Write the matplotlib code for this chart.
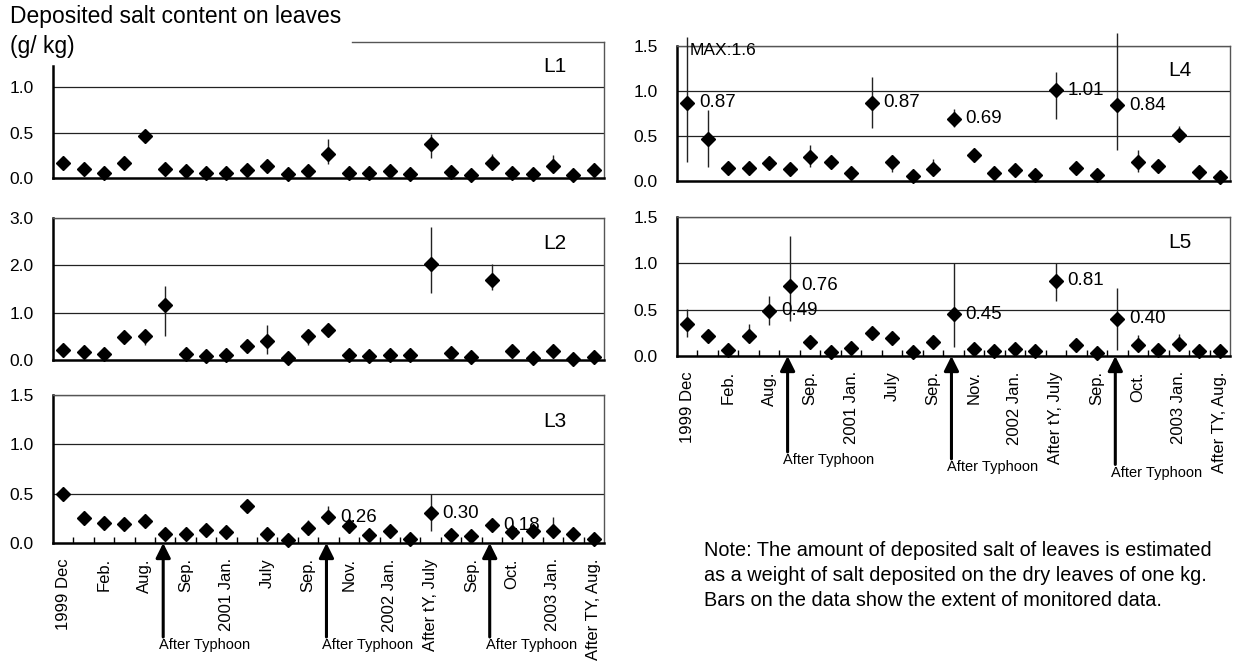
import numpy as np
import matplotlib
matplotlib.use('Agg')
import matplotlib.pyplot as plt

plt.rcParams['font.family'] = ['Liberation Sans', 'DejaVu Sans']

nan = np.nan

# category labels (every other category is labelled)
tick_labels = ['1999 Dec', 'Feb.', 'Aug.', 'Sep.', '2001 Jan.', 'July', 'Sep.',
               'Nov.', '2002 Jan.', 'After tY, July', 'Sep.', 'Oct.', '2003 Jan.',
               'After TY, Aug.']
n_cat = 27

# deposited salt (g/kg) per site
L1 = [0.17, 0.10, 0.06, 0.16, 0.46, 0.10, 0.08, 0.05, 0.06, 0.09, 0.13, 0.04, 0.08, 0.26,
      0.05, 0.06, 0.08, 0.04, 0.37, 0.07, 0.03, 0.16, 0.06, 0.04, 0.13, 0.03, 0.09]
L2 = [0.21, 0.16, 0.13, 0.49, 0.51, 1.16, 0.13, 0.09, 0.11, 0.30, 0.40, 0.04, 0.51, 0.63,
      0.11, 0.09, 0.11, 0.11, 2.02, 0.14, 0.07, 1.70, 0.20, 0.04, 0.18, 0.02, 0.06]
L3 = [0.50, 0.25, 0.20, 0.19, 0.22, 0.09, 0.09, 0.13, 0.11, 0.38, 0.09, 0.03, 0.15, 0.26,
      0.17, 0.08, 0.12, 0.04, 0.30, 0.08, 0.07, 0.18, 0.11, 0.12, 0.12, 0.09, 0.04]
L4 = [0.87, 0.47, 0.14, 0.14, 0.20, 0.13, 0.27, 0.21, 0.09, 0.87, 0.21, 0.06, 0.13, 0.69,
      0.29, 0.09, 0.12, 0.07, 1.01, 0.14, 0.07, 0.84, 0.21, 0.17, 0.51, 0.10, 0.05]
L5 = [0.35, 0.22, 0.07, 0.22, 0.49, 0.76, 0.15, 0.04, 0.09, 0.25, 0.19, 0.04, 0.15, 0.45,
      0.08, 0.05, 0.08, 0.05, 0.81, 0.12, 0.03, 0.40, 0.12, 0.06, 0.13, 0.05, 0.05]

# range of monitored data (bars), nan = no bar
L1_lo = [nan]*13 + [0.15] + [nan]*4 + [0.22, nan, nan, 0.10, nan, nan, 0.10, nan, nan]
L1_hi = [nan]*13 + [0.43] + [nan]*4 + [0.49, nan, nan, 0.26, nan, nan, 0.25, nan, nan]
L2_lo = [nan]*4 + [0.32, 0.51] + [nan]*4 + [0.13, nan, 0.32] + [nan]*5 + [1.41, nan, nan, 1.48] + [nan]*5
L2_hi = [nan]*4 + [0.51, 1.57] + [nan]*4 + [0.74, nan, 0.51] + [nan]*5 + [2.80, nan, nan, 2.02] + [nan]*5
L3_lo = [nan]*9 + [0.31, nan, nan, 0.08, 0.20, 0.10] + [nan]*3 + [0.12] + [nan]*5 + [0.12, nan, nan]
L3_hi = [nan]*9 + [0.38, nan, nan, 0.23, 0.38, 0.23] + [nan]*3 + [0.50] + [nan]*5 + [0.26, nan, nan]
L4_lo = [0.21, 0.16, nan, nan, nan, nan, 0.16, nan, nan, 0.59, 0.10, nan, 0.13, 0.60,
         nan, nan, nan, nan, 0.69, nan, nan, 0.34, 0.10, nan, 0.51, nan, nan]
L4_hi = [1.60, 0.79, nan, nan, nan, nan, 0.40, nan, nan, 1.16, 0.21, nan, 0.24, 0.80,
         nan, nan, nan, nan, 1.21, nan, nan, 1.65, 0.34, nan, 0.61, nan, nan]
L5_lo = [0.20, nan, nan, 0.22, 0.33, 0.38, nan, nan, nan, nan, nan, nan, 0.08, 0.10,
         nan, nan, nan, nan, 0.59, nan, nan, 0.07, 0.12, nan, 0.13, nan, nan]
L5_hi = [0.51, nan, nan, 0.34, 0.65, 1.30, nan, nan, nan, nan, nan, nan, 0.22, 1.00,
         nan, nan, nan, nan, 1.00, nan, nan, 0.73, 0.23, nan, 0.24, nan, nan]

# labelled values
L3_notes = {13: '0.26', 18: '0.30', 21: '0.18'}
L4_notes = {0: '0.87', 9: '0.87', 13: '0.69', 18: '1.01', 21: '0.84'}
L5_notes = {4: '0.49', 5: '0.76', 13: '0.45', 18: '0.81', 21: '0.40'}

typhoon_x = [4.9, 12.9, 20.9]

W, H = 1236, 665
fig = plt.figure(figsize=(W / 100, H / 100), dpi=100)


def box(x0, y0, x1, y1):
    return [x0 / W, 1 - y1 / H, (x1 - x0) / W, (y1 - y0) / H]


def panel(rect, vals, lo, hi, ymax, yticks, name, notes=None, xlabels=False):
    ax = fig.add_axes(rect)
    x = np.arange(n_cat)
    lo = np.array(lo)
    hi = np.array(hi)
    m = ~np.isnan(lo)
    ax.vlines(x[m], lo[m], hi[m], color='#222222', lw=1.0, zorder=3, clip_on=False)
    ax.plot(x, vals, ls='none', marker='D', ms=7, color='black', zorder=4, clip_on=False)
    ax.set_xlim(-0.5, n_cat - 0.5)
    ax.set_ylim(0, ymax)
    ax.set_yticks(yticks)
    ax.set_yticklabels(['%.1f' % t for t in yticks])
    for t in yticks[1:]:
        ax.axhline(t, color='#222222', lw=0.9, zorder=1)
    for s in ['top', 'right']:
        ax.spines[s].set_color('#555555')
        ax.spines[s].set_linewidth(1.0)
    for s in ['left', 'bottom']:
        ax.spines[s].set_color('black')
        ax.spines[s].set_linewidth(1.8)
    ax.tick_params(axis='y', length=0, pad=14, labelsize=12.5)
    ax.text(0.91, 0.82, name, transform=ax.transAxes, fontsize=15,
            ha='center', va='center')
    if notes:
        for i, s in notes.items():
            ax.annotate(s, (i, vals[i]), xytext=(8.5, 0), textcoords='offset points',
                        ha='left', va='center', fontsize=13.5, zorder=5)
    if xlabels:
        ax.set_xticks(np.arange(0, n_cat, 2))
        ax.set_xticklabels(tick_labels, rotation=90, ha='center', va='top', fontsize=12)
        ax.set_xticks(np.arange(0.5, n_cat - 1, 1), minor=True)
        ax.tick_params(axis='x', which='major', length=0, pad=11)
        ax.tick_params(axis='x', which='minor', direction='in', length=4, width=1)
    else:
        ax.set_xticks([])
    return ax


def typhoon_arrows(ax, tails):
    tr = ax.get_xaxis_transform()
    for xv, yt in zip(typhoon_x, tails):
        ax.annotate('', xy=(xv, 0), xytext=(xv, yt), xycoords=tr, textcoords=tr,
                    arrowprops=dict(arrowstyle='-|>', color='black', lw=2.2,
                                    mutation_scale=22, shrinkA=0, shrinkB=0),
                    annotation_clip=False)
        ax.annotate('After Typhoon', (xv, yt), xycoords=tr, xytext=(-3, -1),
                    textcoords='offset points', ha='left', va='top', fontsize=10.5,
                    annotation_clip=False)


ax1 = panel(box(53, 42, 604, 178), L1, L1_lo, L1_hi, 1.5, [0, 0.5, 1.0], 'L1')
ax1.spines['left'].set_bounds(0, 1.24)
ax1.spines['top'].set_bounds(14.15, n_cat - 0.5)

ax2 = panel(box(53, 218, 604, 360), L2, L2_lo, L2_hi, 3.0, [0, 1.0, 2.0, 3.0], 'L2')

ax3 = panel(box(53, 395, 604, 543), L3, L3_lo, L3_hi, 1.5, [0, 0.5, 1.0, 1.5], 'L3',
            notes=L3_notes, xlabels=True)
typhoon_arrows(ax3, [-0.635, -0.635, -0.635])

ax4 = panel(box(677, 46, 1230, 181), L4, L4_lo, L4_hi, 1.5, [0, 0.5, 1.0, 1.5], 'L4',
            notes=L4_notes)
ax4.annotate('MAX:1.6', (0, 1.5), xytext=(1.5, -3), textcoords='offset points',
             fontsize=12.5, ha='left', va='center', zorder=5)

ax5 = panel(box(677, 217, 1230, 356), L5, L5_lo, L5_hi, 1.5, [0, 0.5, 1.0, 1.5], 'L5',
            notes=L5_notes, xlabels=True)
typhoon_arrows(ax5, [-0.69, -0.74, -0.78])

fig.text(10 / W, 1 - 16 / H, 'Deposited salt content on leaves', fontsize=16.5,
         ha='left', va='center')
fig.text(10 / W, 1 - 47 / H, '(g/ kg)', fontsize=16.5, ha='left', va='center')

fig.text(704 / W, 1 - 541 / H,
         'Note: The amount of deposited salt of leaves is estimated\n'
         'as a weight of salt deposited on the dry leaves of one kg.\n'
         'Bars on the data show the extent of monitored data.',
         fontsize=14.3, ha='left', va='top', linespacing=1.4)

fig.savefig('out.png', dpi=100)
